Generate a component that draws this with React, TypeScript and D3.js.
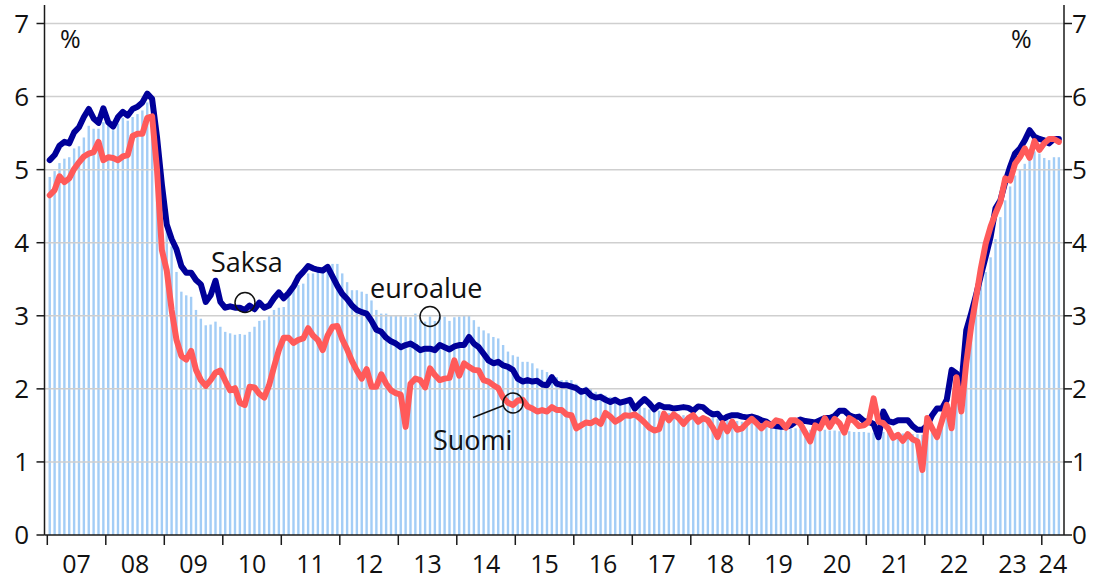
import React from 'react';
import * as d3 from 'd3';

// Year labels (2007–2024)
const yearLabels = ['07','08','09','10','11','12','13','14','15','16','17','18','19','20','21','22','23','24'];
const yTicks = [0, 1, 2, 3, 4, 5, 6, 7];

// Monthly values Jan 2007 – Apr 2024, %
const euroalue = [
  4.90, 4.98, 5.09, 5.15, 5.17, 5.29, 5.32, 5.44, 5.60, 5.56, 5.56, 5.65,
  5.63, 5.54, 5.63, 5.71, 5.67, 5.72, 5.76, 5.81, 5.92, 5.90, 5.45, 4.95,
  4.40, 3.95, 3.60, 3.33, 3.28, 3.26, 3.08, 2.96, 2.87, 2.88, 2.92, 2.85,
  2.78, 2.76, 2.74, 2.75, 2.74, 2.78, 2.85, 2.93, 2.94, 3.01, 3.08, 3.11,
  3.12, 3.26, 3.35, 3.42, 3.44, 3.58, 3.58, 3.62, 3.63, 3.66, 3.71, 3.71,
  3.58, 3.46, 3.35, 3.35, 3.33, 3.30, 3.21, 3.08, 3.03, 3.03, 3.01, 3.01,
  3.01, 2.99, 2.98, 3.03, 2.94, 2.92, 2.99, 2.93, 3.01, 2.99, 2.93, 2.98,
  2.99, 3.01, 3.01, 2.94, 2.85, 2.80, 2.76, 2.71, 2.69, 2.60, 2.51, 2.46,
  2.44, 2.37, 2.37, 2.35, 2.28, 2.26, 2.23, 2.19, 2.16, 2.12, 2.12, 2.12,
  2.07, 2.01, 2.03, 2.01, 1.96, 1.94, 1.91, 1.89, 1.87, 1.85, 1.84, 1.80,
  1.78, 1.76, 1.74, 1.72, 1.70, 1.70, 1.69, 1.67, 1.66, 1.65, 1.64, 1.64,
  1.63, 1.62, 1.62, 1.61, 1.60, 1.59, 1.58, 1.57, 1.56, 1.56, 1.55, 1.55,
  1.54, 1.53, 1.51, 1.50, 1.48, 1.47, 1.46, 1.45, 1.45, 1.46, 1.45, 1.44,
  1.44, 1.44, 1.45, 1.44, 1.43, 1.43, 1.42, 1.42, 1.42, 1.41, 1.41, 1.41,
  1.40, 1.40, 1.40, 1.41, 1.40, 1.39, 1.39, 1.39, 1.38, 1.38, 1.38, 1.37,
  1.35, 1.40, 1.45, 1.50, 1.60, 1.75, 1.95, 2.20, 2.55, 2.90, 3.20, 3.45,
  3.60, 3.80, 4.05, 4.35, 4.58, 4.77, 4.92, 5.00, 5.08, 5.13, 5.25, 5.22,
  5.16, 5.13, 5.17, 5.17,
];

const saksa = [
  5.13, 5.20, 5.33, 5.38, 5.36, 5.51, 5.58, 5.72, 5.83, 5.70, 5.64, 5.84,
  5.65, 5.59, 5.72, 5.79, 5.74, 5.83, 5.86, 5.92, 6.04, 5.97, 5.45, 4.80,
  4.25, 4.05, 3.91, 3.68, 3.59, 3.59, 3.49, 3.43, 3.19, 3.28, 3.48, 3.19,
  3.11, 3.13, 3.11, 3.11, 3.08, 3.14, 3.09, 3.18, 3.11, 3.14, 3.24, 3.32,
  3.24, 3.31, 3.40, 3.53, 3.60, 3.68, 3.65, 3.63, 3.62, 3.67, 3.54, 3.41,
  3.30, 3.23, 3.14, 3.08, 3.05, 3.03, 2.93, 2.81, 2.78, 2.70, 2.65, 2.62,
  2.57, 2.60, 2.62, 2.58, 2.53, 2.55, 2.55, 2.53, 2.60, 2.57, 2.54, 2.58,
  2.60, 2.60, 2.71, 2.62, 2.57, 2.48, 2.39, 2.35, 2.37, 2.32, 2.30, 2.26,
  2.14, 2.10, 2.12, 2.10, 2.11, 2.06, 2.05, 2.16, 2.07, 2.05, 2.05, 2.03,
  2.01, 1.96, 1.98, 1.91, 1.88, 1.89, 1.85, 1.82, 1.85, 1.81, 1.83, 1.85,
  1.73, 1.80, 1.86, 1.80, 1.72, 1.78, 1.75, 1.75, 1.73, 1.74, 1.75, 1.74,
  1.70, 1.76, 1.75, 1.69, 1.65, 1.66, 1.58, 1.62, 1.64, 1.64, 1.62, 1.61,
  1.62, 1.60, 1.57, 1.55, 1.50, 1.49, 1.48, 1.48, 1.50, 1.55, 1.58, 1.56,
  1.55, 1.54, 1.57, 1.60, 1.60, 1.63, 1.70, 1.70, 1.64, 1.61, 1.62, 1.56,
  1.55, 1.52, 1.34, 1.69, 1.56, 1.54, 1.57, 1.57, 1.57, 1.49, 1.44, 1.44,
  1.50, 1.64, 1.73, 1.73, 1.85, 2.26, 2.21, 2.05, 2.80, 3.03, 3.28, 3.55,
  3.81, 4.08, 4.47, 4.58, 4.83, 5.04, 5.22, 5.29, 5.40, 5.54, 5.45, 5.42,
  5.40, 5.36, 5.42, 5.42,
];

const suomi = [
  4.65, 4.72, 4.91, 4.83, 4.88, 5.01, 5.10, 5.18, 5.22, 5.24, 5.38, 5.13,
  5.17, 5.16, 5.13, 5.18, 5.20, 5.46, 5.49, 5.49, 5.71, 5.73, 5.00, 3.90,
  3.62, 3.08, 2.67, 2.45, 2.40, 2.52, 2.26, 2.12, 2.04, 2.12, 2.22, 2.25,
  2.11, 1.98, 2.01, 1.81, 1.78, 2.03, 2.02, 1.93, 1.88, 2.05, 2.30, 2.53,
  2.70, 2.70, 2.63, 2.67, 2.69, 2.83, 2.73, 2.67, 2.53, 2.73, 2.85, 2.86,
  2.68, 2.54, 2.38, 2.25, 2.14, 2.27, 2.03, 2.03, 2.20, 2.07, 1.98, 1.94,
  1.92, 1.48, 2.07, 2.14, 2.12, 2.02, 2.28, 2.19, 2.12, 2.14, 2.15, 2.39,
  2.18, 2.35, 2.30, 2.26, 2.25, 2.12, 2.10, 2.05, 2.01, 1.88, 1.81, 1.78,
  1.84, 1.85, 1.76, 1.73, 1.69, 1.71, 1.69, 1.75, 1.71, 1.71, 1.65, 1.64,
  1.46, 1.50, 1.54, 1.53, 1.57, 1.52, 1.67, 1.62, 1.55, 1.59, 1.64, 1.63,
  1.65, 1.60, 1.54, 1.47, 1.43, 1.45, 1.66, 1.57, 1.65, 1.60, 1.52, 1.60,
  1.64, 1.55, 1.60, 1.57, 1.47, 1.34, 1.53, 1.42, 1.55, 1.44, 1.46, 1.53,
  1.59, 1.53, 1.46, 1.53, 1.50, 1.57, 1.55, 1.47, 1.57, 1.57, 1.52, 1.40,
  1.28, 1.50, 1.46, 1.60, 1.48, 1.59, 1.53, 1.40, 1.60, 1.56, 1.49, 1.50,
  1.55, 1.87, 1.55, 1.53, 1.46, 1.33, 1.37, 1.29, 1.38, 1.31, 1.28, 0.89,
  1.60, 1.46, 1.34, 1.56, 1.78, 1.46, 2.16, 1.69, 2.35, 2.85, 3.24, 3.65,
  3.99, 4.22, 4.40, 4.56, 4.88, 4.85, 5.08, 5.17, 5.29, 5.16, 5.39, 5.27,
  5.36, 5.42, 5.42, 5.38,
];

const FONT = '"Open Sans", "Noto Sans", sans-serif';

export default function App() {
  const W = 1095;
  const H = 581;
  const axisLeft = 44.5;
  const axisRight = 1064;
  const monthsSpan = 208;
  const x = d3.scaleLinear().domain([0, monthsSpan]).range([47.3, 47.3 + 4.875 * monthsSpan]);
  const y = d3.scaleLinear().domain([0, 7]).range([535, 23.5]);

  const line = d3
    .line<number>()
    .x((_, i) => x(i + 0.5))
    .y((d) => y(d));

  const barW = 2.4;

  const yearTicks = yearLabels.map((_, k) => x(k * 12));

  return (
    <div style={{ position: 'absolute', left: 0, top: 0 }}>
      <svg width={W} height={H} style={{ display: 'block', background: '#fff' }} fontFamily={FONT}>
        {/* bars: euro area */}
        <g fill="#a3cdf6">
          {euroalue.map((v, i) => (
            <rect key={i} x={x(i + 0.5) - barW / 2} y={y(v)} width={barW} height={y(0) - y(v)} />
          ))}
        </g>
        {/* gridlines */}
        <g stroke="#cfcfcf" strokeWidth={1.5}>
          {yTicks.filter((t) => t > 0).map((t) => (
            <line key={t} x1={axisLeft} x2={axisRight} y1={y(t)} y2={y(t)} />
          ))}
        </g>
        {/* lines */}
        <path d={line(saksa) || ''} fill="none" stroke="#000099" strokeWidth={6} strokeLinejoin="round" strokeLinecap="round" />
        <path d={line(suomi) || ''} fill="none" stroke="#ff5a5a" strokeWidth={6} strokeLinejoin="round" strokeLinecap="round" />
        {/* axes */}
        <g stroke="#1a1a1a" strokeWidth={1.5}>
          <line x1={axisLeft} x2={axisLeft} y1={5} y2={y(0)} />
          <line x1={axisRight} x2={axisRight} y1={5} y2={y(0)} />
          <line x1={axisLeft} x2={axisRight} y1={y(0)} y2={y(0)} />
          {yTicks.map((t) => (
            <g key={t}>
              <line x1={axisLeft - 8} x2={axisLeft} y1={y(t)} y2={y(t)} />
              <line x1={axisRight} x2={axisRight + 8} y1={y(t)} y2={y(t)} />
            </g>
          ))}
          {yearTicks.map((tx, k) => (
            <line key={k} x1={tx} x2={tx} y1={y(0)} y2={y(0) + 10} />
          ))}
        </g>
        {/* tick labels */}
        <g fontSize={26} fill="#111">
          {yTicks.map((t) => (
            <text key={'l' + t} x={29} y={y(t)} dy="0.36em" textAnchor="end">{t}</text>
          ))}
          {yTicks.map((t) => (
            <text key={'r' + t} x={axisRight + 8} y={y(t)} dy="0.36em" textAnchor="start">{t}</text>
          ))}
        </g>
        <g fontSize={25} fill="#111">
          {yearLabels.map((lab, k) => {
            const a = yearTicks[k];
            const b = k + 1 < yearTicks.length ? yearTicks[k + 1] : axisRight;
            return (
              <text key={'x' + k} x={(a + b) / 2} y={573} textAnchor="middle">{lab}</text>
            );
          })}
        </g>
        {/* unit labels */}
        <g fontSize={25} fill="#111">
          <text x={60} y={48}>%</text>
          <text x={1011} y={48}>%</text>
        </g>
        {/* annotations */}
        <g fontSize={27} fill="#111">
          <text x={211} y={272}>Saksa</text>
          <text x={370} y={298}>euroalue</text>
          <text x={433} y={450}>Suomi</text>
        </g>
        <g fill="none" stroke="#111" strokeWidth={1.5}>
          <circle cx={245} cy={302.5} r={10} />
          <circle cx={430} cy={316.5} r={10} />
          <circle cx={513} cy={403} r={10} />
          <line x1={473} y1={417.5} x2={503.5} y2={405.5} />
        </g>
      </svg>
    </div>
  );
}
